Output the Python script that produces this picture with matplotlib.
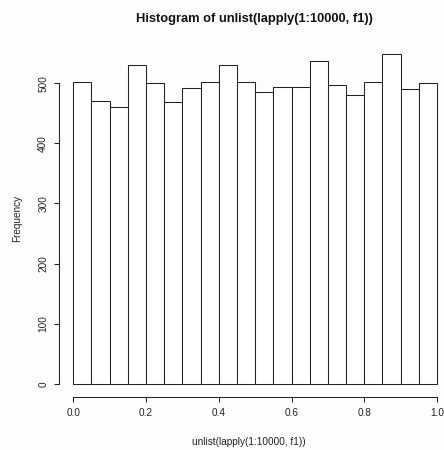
import matplotlib.pyplot as plt
import numpy as np

plt.rcParams['font.family'] = ['Liberation Sans', 'DejaVu Sans']

# counts per bin, breaks every 0.05 from 0 to 1
breaks = np.linspace(0, 1, 21)
counts = [502, 471, 461, 531, 501, 469, 492, 502, 530, 502,
          485, 494, 494, 537, 498, 480, 502, 549, 490, 501]
xticks = [0.0, 0.2, 0.4, 0.6, 0.8, 1.0]
xticklabels = ['0.0', '0.2', '0.4', '0.6', '0.8', '1.0']
yticks = [0, 100, 200, 300, 400, 500]

W, H = 444, 450
PX = 72 / 100  # points per pixel
fig = plt.figure(figsize=(W / 100, H / 100), dpi=100)
fig.patch.set_facecolor('#fdfdfd')

# plot region in pixels (R style, 4% expansion)
left, right, top, bottom = 58.7, 451.6, 40.7, 396.9
ax = fig.add_axes([left / W, (H - bottom) / H, (right - left) / W, (bottom - top) / H])
ax.set_facecolor('#fdfdfd')

ax.bar(breaks[:-1], counts, width=0.05, align='edge',
       facecolor='white', edgecolor='#222222', linewidth=0.75)

ymax = max(counts)
ax.set_xlim(-0.04, 1.04)
ax.set_ylim(-0.04 * ymax, 1.04 * ymax)

for s in ['top', 'right']:
    ax.spines[s].set_visible(False)
ax.spines['left'].set_bounds(0, 500)
ax.spines['bottom'].set_bounds(0, 1)
for s in ['left', 'bottom']:
    ax.spines[s].set_linewidth(0.75)
    ax.spines[s].set_color('#222222')

ax.set_xticks(xticks)
ax.set_xticklabels(xticklabels)
ax.set_yticks(yticks)
ax.set_yticklabels([str(v) for v in yticks])
tick_len = 5 * PX
ax.tick_params(axis='both', direction='out', length=tick_len, width=0.75,
               color='#222222', labelsize=7.2, labelcolor='#222222')
# baselines: x labels ~19px below axis, y labels ~12.5px left of axis
ax.tick_params(axis='x', pad=19 * PX - tick_len)
ax.tick_params(axis='y', pad=12.5 * PX - tick_len)
for lab in ax.get_xticklabels():
    lab.set_va('baseline')
for lab in ax.get_yticklabels():
    lab.set_rotation(90)
    lab.set_rotation_mode('anchor')
    lab.set_ha('center')
    lab.set_va('baseline')

fig.text(254 / W, 1 - 22 / H, 'Histogram of unlist(lapply(1:10000, f1))',
         ha='center', va='baseline', fontsize=9.3, fontweight='bold', color='#111111')
fig.text(249 / W, 1 - 445 / H, 'unlist(lapply(1:10000, f1))',
         ha='center', va='baseline', fontsize=7.2, color='#222222')
fig.text(20 / W, 1 - 218.8 / H, 'Frequency', rotation=90, rotation_mode='anchor',
         ha='center', va='baseline', fontsize=7.2, color='#222222')

fig.savefig('out.png', dpi=100, facecolor=fig.get_facecolor())
